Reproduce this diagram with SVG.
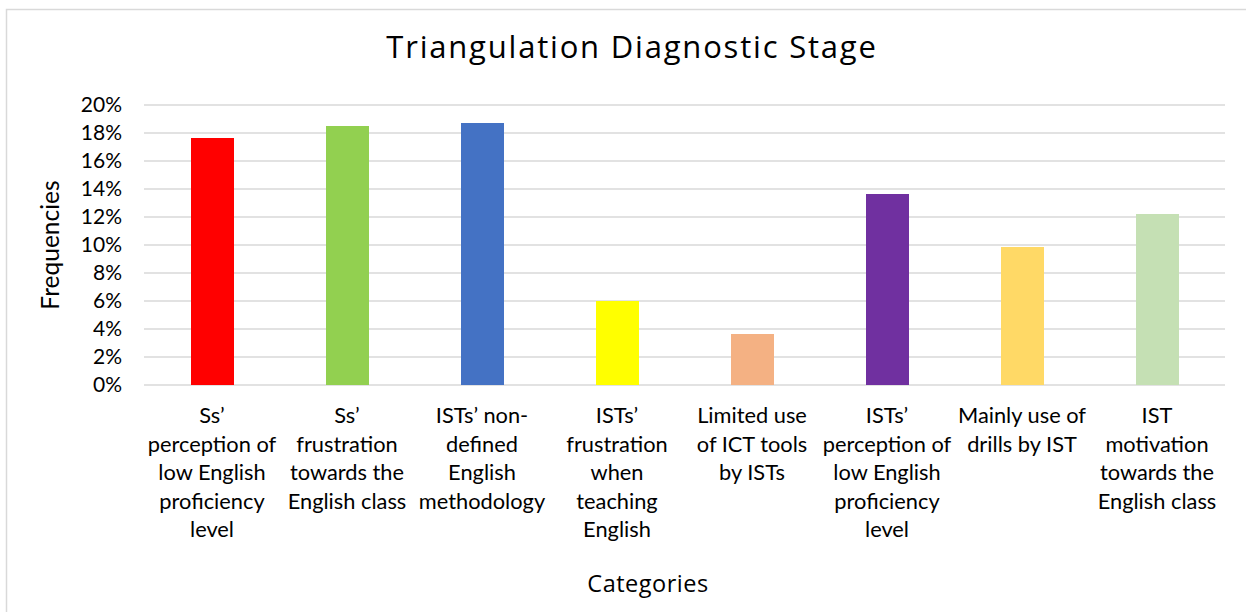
<svg xmlns="http://www.w3.org/2000/svg" width="1246" height="612" viewBox="0 0 1246 612">
  <style>
    .frame { fill: #ffffff; stroke: #d9d9d9; stroke-width: 1.5; }
    .grid { stroke: #d9d9d9; stroke-width: 1.5; }
    .tick { font-family: Lato, "Liberation Sans", sans-serif; font-size: 21px; fill: #000000; text-anchor: end; }
    .cat { font-family: Lato, "Liberation Sans", sans-serif; font-size: 21.8px; fill: #000000; text-anchor: middle; }
    .title { font-family: "Open Sans", "Liberation Sans", sans-serif; font-size: 31px; letter-spacing: 1.8px; fill: #000000; text-anchor: middle; }
    .ytitle { font-family: Lato, "Liberation Sans", sans-serif; font-size: 24.5px; fill: #000000; text-anchor: middle; }
    .xtitle { font-family: "Open Sans", "Liberation Sans", sans-serif; font-size: 23.5px; letter-spacing: 0.5px; fill: #000000; text-anchor: middle; }
  </style>

  <!-- chart background and outer frame -->
  <rect x="0" y="0" width="1246" height="612" fill="#ffffff"/>
  <rect class="frame" x="6.5" y="9.5" width="1260" height="620"/>

  <text class="title" x="632" y="58">Triangulation Diagnostic Stage</text>

  <!-- horizontal gridlines, 2% steps -->
  <g id="gridlines">
    <line class="grid" x1="144" y1="105" x2="1225" y2="105"/>
    <line class="grid" x1="144" y1="133" x2="1225" y2="133"/>
    <line class="grid" x1="144" y1="161" x2="1225" y2="161"/>
    <line class="grid" x1="144" y1="189" x2="1225" y2="189"/>
    <line class="grid" x1="144" y1="217" x2="1225" y2="217"/>
    <line class="grid" x1="144" y1="245" x2="1225" y2="245"/>
    <line class="grid" x1="144" y1="273" x2="1225" y2="273"/>
    <line class="grid" x1="144" y1="301" x2="1225" y2="301"/>
    <line class="grid" x1="144" y1="329" x2="1225" y2="329"/>
    <line class="grid" x1="144" y1="357" x2="1225" y2="357"/>
    <line class="grid" x1="144" y1="385" x2="1225" y2="385"/>
  </g>

  <!-- y axis tick labels -->
  <g id="y-ticks">
    <text class="tick" x="122" y="112">20%</text>
    <text class="tick" x="122" y="140">18%</text>
    <text class="tick" x="122" y="168">16%</text>
    <text class="tick" x="122" y="196">14%</text>
    <text class="tick" x="122" y="224">12%</text>
    <text class="tick" x="122" y="252">10%</text>
    <text class="tick" x="122" y="280">8%</text>
    <text class="tick" x="122" y="308">6%</text>
    <text class="tick" x="122" y="336">4%</text>
    <text class="tick" x="122" y="364">2%</text>
    <text class="tick" x="122" y="392">0%</text>
  </g>

  <text class="ytitle" transform="translate(59 245) rotate(-90)">Frequencies</text>

  <!-- bars -->
  <g id="bars">
    <rect id="bar-1" x="191" y="138" width="43" height="247" fill="#ff0000"/>
    <rect id="bar-2" x="326" y="126" width="43" height="259" fill="#92d050"/>
    <rect id="bar-3" x="461" y="123" width="43" height="262" fill="#4472c4"/>
    <rect id="bar-4" x="596" y="301" width="43" height="84" fill="#ffff00"/>
    <rect id="bar-5" x="731" y="334" width="43" height="51" fill="#f4b183"/>
    <rect id="bar-6" x="866" y="194" width="43" height="191" fill="#7030a0"/>
    <rect id="bar-7" x="1001" y="247" width="43" height="138" fill="#ffd966"/>
    <rect id="bar-8" x="1136" y="214" width="43" height="171" fill="#c5e0b4"/>
  </g>

  <!-- category labels -->
  <g id="categories">
    <text class="cat" x="212" y="423">Ss’<tspan x="212" dy="28.6">perception of</tspan><tspan x="212" dy="28.6">low English</tspan><tspan x="212" dy="28.6">proficiency</tspan><tspan x="212" dy="28.6">level</tspan></text>
    <text class="cat" x="347" y="423">Ss’<tspan x="347" dy="28.6">frustration</tspan><tspan x="347" dy="28.6">towards the</tspan><tspan x="347" dy="28.6">English class</tspan></text>
    <text class="cat" x="482" y="423">ISTs’ non-<tspan x="482" dy="28.6">defined</tspan><tspan x="482" dy="28.6">English</tspan><tspan x="482" dy="28.6">methodology</tspan></text>
    <text class="cat" x="617" y="423">ISTs’<tspan x="617" dy="28.6">frustration</tspan><tspan x="617" dy="28.6">when</tspan><tspan x="617" dy="28.6">teaching</tspan><tspan x="617" dy="28.6">English</tspan></text>
    <text class="cat" x="752" y="423">Limited use<tspan x="752" dy="28.6">of ICT tools</tspan><tspan x="752" dy="28.6">by ISTs</tspan></text>
    <text class="cat" x="887" y="423">ISTs’<tspan x="887" dy="28.6">perception of</tspan><tspan x="887" dy="28.6">low English</tspan><tspan x="887" dy="28.6">proficiency</tspan><tspan x="887" dy="28.6">level</tspan></text>
    <text class="cat" x="1022" y="423">Mainly use of<tspan x="1022" dy="28.6">drills by IST</tspan></text>
    <text class="cat" x="1157" y="423">IST<tspan x="1157" dy="28.6">motivation</tspan><tspan x="1157" dy="28.6">towards the</tspan><tspan x="1157" dy="28.6">English class</tspan></text>
  </g>

  <text class="xtitle" x="648" y="592">Categories</text>
</svg>
